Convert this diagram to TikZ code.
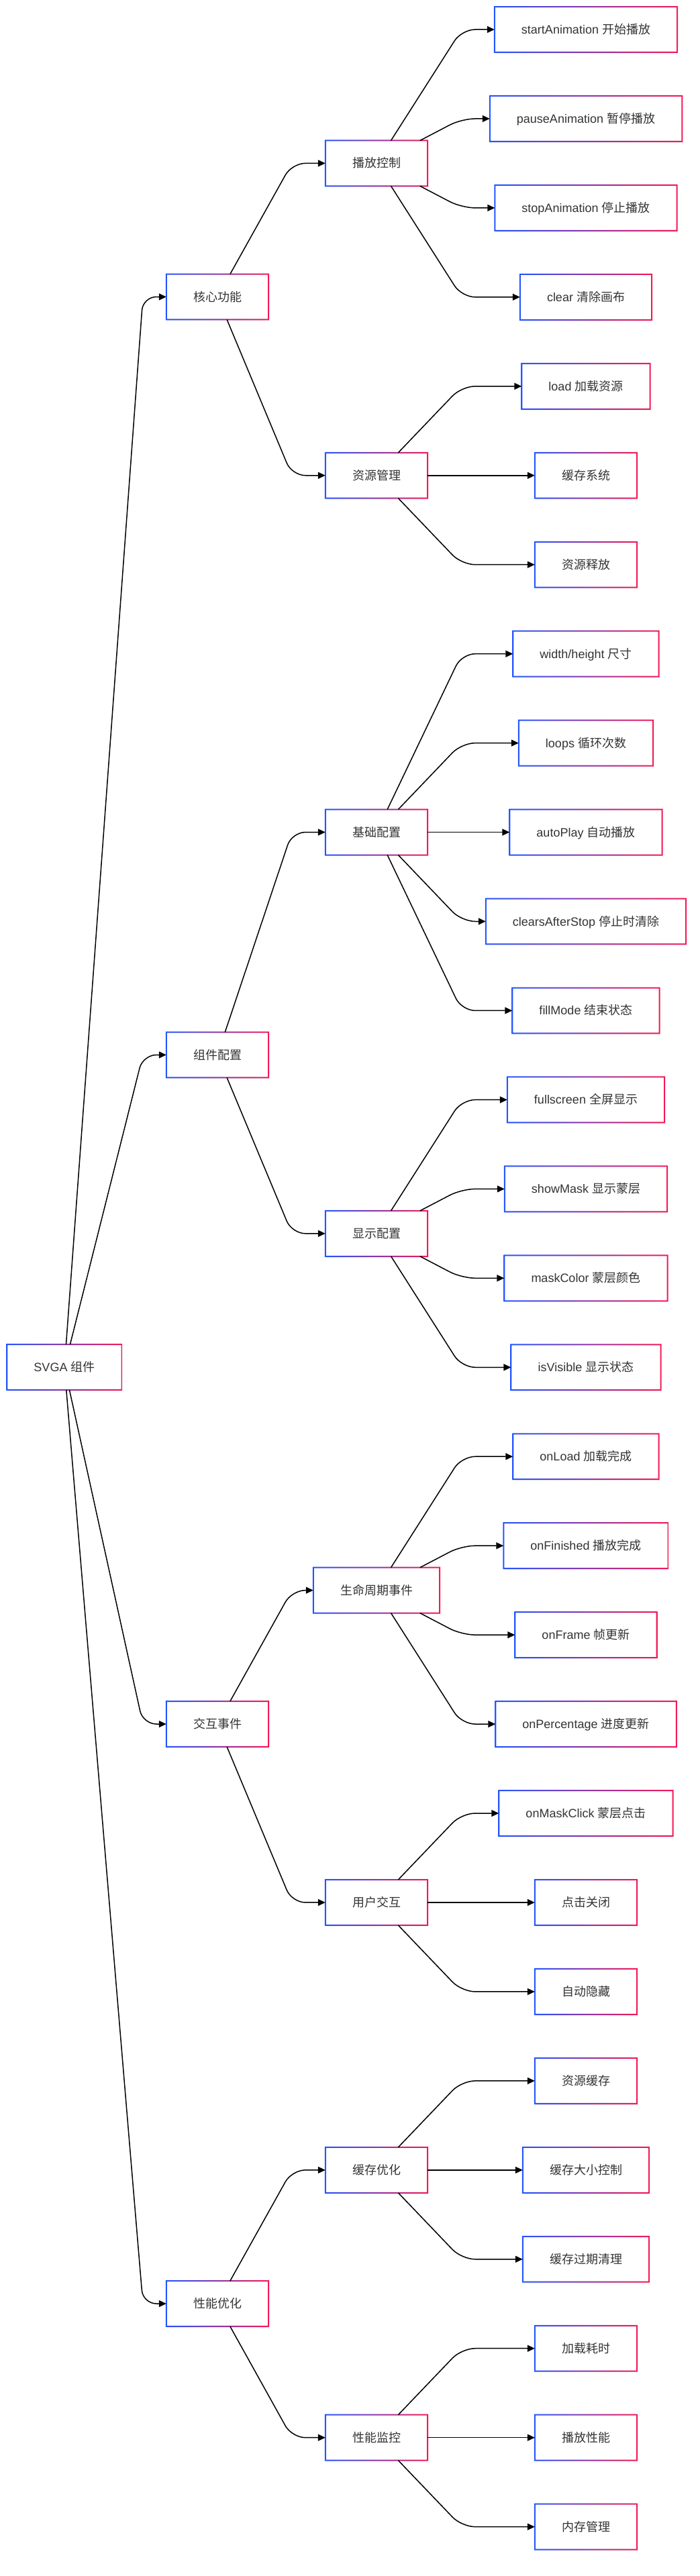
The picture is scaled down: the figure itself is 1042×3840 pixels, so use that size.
\documentclass[tikz,border=0pt]{standalone}
\usepackage{fontspec}
\setmainfont{Liberation Sans}
\newfontfamily\cjk{Noto Sans CJK SC}
\usetikzlibrary{arrows.meta,shadows,calc}
\definecolor{gblue}{RGB}{35,85,255}
\definecolor{gred}{RGB}{245,25,85}
\definecolor{txt}{RGB}{51,51,51}
\newcommand\zh[1]{{\cjk #1}}
\newcommand\gring[1]{\shade[left color=gblue,right color=gred,even odd rule]
  ($(#1.south west)+(-1,1)$) rectangle ($(#1.north east)+(1,-1)$)
  ($(#1.south west)+(1,-1)$) rectangle ($(#1.north east)+(-1,1)$);}
\newcommand\conn[3]{\draw[connline] (#1) -- (#2 -| #3) -- (#2.west);}
\tikzset{
  box/.style={rectangle, fill=white, draw=none, inner xsep=40pt, inner ysep=0pt,
    minimum height=67.5pt, text height=16pt, text depth=3pt,
    font=\fontsize{18pt}{22pt}\selectfont, text=txt,
    drop shadow={opacity=0.10, shadow xshift=1pt, shadow yshift=-2pt}},
  connline/.style={draw=black, line width=1.5pt, rounded corners=20pt,
    -{Triangle[length=11pt,width=10pt]}}
}
\begin{document}
\begin{tikzpicture}[x=1pt,y=-1pt]
\useasboundingbox (0,0) rectangle (1042,3840);
% rank bend coordinates
\coordinate (b1) at (213,0);
\coordinate (b2) at (435,0);
\coordinate (b3) at (688,0);
% root
\node[box] (root) at (96,2038) {SVGA \zh{组件}};
% level 1
\node[box] (c1) at (324,442.5) {\zh{核心功能}};
\node[box] (c2) at (324,1572.5) {\zh{组件配置}};
\node[box] (c3) at (324,2570) {\zh{交互事件}};
\node[box] (c4) at (324,3434) {\zh{性能优化}};
% level 2
\node[box] (p1) at (561,243.4) {\zh{播放控制}};
\node[box] (p2) at (561,708.75) {\zh{资源管理}};
\node[box] (p3) at (561,1240.55) {\zh{基础配置}};
\node[box] (p4) at (561,1838.8) {\zh{显示配置}};
\node[box] (p5) at (561,2370.6) {\zh{生命周期事件}};
\node[box] (p6) at (561,2835.95) {\zh{用户交互}};
\node[box] (p7) at (561,3234.8) {\zh{缓存优化}};
\node[box] (p8) at (561,3633.65) {\zh{性能监控}};
% leaves
\node[box] (l0) at (873,44) {startAnimation \zh{开始播放}};
\node[box] (l1) at (873,176.95) {pauseAnimation \zh{暂停播放}};
\node[box] (l2) at (873,309.9) {stopAnimation \zh{停止播放}};
\node[box] (l3) at (873,442.85) {clear \zh{清除画布}};
\node[box] (l4) at (873,575.8) {load \zh{加载资源}};
\node[box] (l5) at (873,708.75) {\zh{缓存系统}};
\node[box] (l6) at (873,841.7) {\zh{资源释放}};
\node[box] (l7) at (873,974.65) {width/height \zh{尺寸}};
\node[box] (l8) at (873,1107.6) {loops \zh{循环次数}};
\node[box] (l9) at (873,1240.55) {autoPlay \zh{自动播放}};
\node[box] (l10) at (873,1373.5) {clearsAfterStop \zh{停止时清除}};
\node[box] (l11) at (873,1506.45) {fillMode \zh{结束状态}};
\node[box] (l12) at (873,1639.4) {fullscreen \zh{全屏显示}};
\node[box] (l13) at (873,1772.35) {showMask \zh{显示蒙层}};
\node[box] (l14) at (873,1905.3) {maskColor \zh{蒙层颜色}};
\node[box] (l15) at (873,2038.25) {isVisible \zh{显示状态}};
\node[box] (l16) at (873,2171.2) {onLoad \zh{加载完成}};
\node[box] (l17) at (873,2304.15) {onFinished \zh{播放完成}};
\node[box] (l18) at (873,2437.1) {onFrame \zh{帧更新}};
\node[box] (l19) at (873,2570.05) {onPercentage \zh{进度更新}};
\node[box] (l20) at (873,2703) {onMaskClick \zh{蒙层点击}};
\node[box] (l21) at (873,2835.95) {\zh{点击关闭}};
\node[box] (l22) at (873,2968.9) {\zh{自动隐藏}};
\node[box] (l23) at (873,3101.85) {\zh{资源缓存}};
\node[box] (l24) at (873,3234.8) {\zh{缓存大小控制}};
\node[box] (l25) at (873,3367.75) {\zh{缓存过期清理}};
\node[box] (l26) at (873,3500.7) {\zh{加载耗时}};
\node[box] (l27) at (873,3633.65) {\zh{播放性能}};
\node[box] (l28) at (873,3766.6) {\zh{内存管理}};
% gradient borders
\foreach \n in {root,c1,c2,c3,c4,p1,p2,p3,p4,p5,p6,p7,p8,
  l0,l1,l2,l3,l4,l5,l6,l7,l8,l9,l10,l11,l12,l13,l14,l15,l16,l17,l18,l19,l20,
  l21,l22,l23,l24,l25,l26,l27,l28} {\gring{\n}}
% connectors: root -> level 1
\conn{root}{c1}{b1}
\conn{root}{c2}{b1}
\conn{root}{c3}{b1}
\conn{root}{c4}{b1}
% level 1 -> level 2
\conn{c1}{p1}{b2}
\conn{c1}{p2}{b2}
\conn{c2}{p3}{b2}
\conn{c2}{p4}{b2}
\conn{c3}{p5}{b2}
\conn{c3}{p6}{b2}
\conn{c4}{p7}{b2}
\conn{c4}{p8}{b2}
% level 2 -> leaves
\conn{p1}{l0}{b3}
\conn{p1}{l1}{b3}
\conn{p1}{l2}{b3}
\conn{p1}{l3}{b3}
\conn{p2}{l4}{b3}
\conn{p2}{l5}{b3}
\conn{p2}{l6}{b3}
\conn{p3}{l7}{b3}
\conn{p3}{l8}{b3}
\conn{p3}{l9}{b3}
\conn{p3}{l10}{b3}
\conn{p3}{l11}{b3}
\conn{p4}{l12}{b3}
\conn{p4}{l13}{b3}
\conn{p4}{l14}{b3}
\conn{p4}{l15}{b3}
\conn{p5}{l16}{b3}
\conn{p5}{l17}{b3}
\conn{p5}{l18}{b3}
\conn{p5}{l19}{b3}
\conn{p6}{l20}{b3}
\conn{p6}{l21}{b3}
\conn{p6}{l22}{b3}
\conn{p7}{l23}{b3}
\conn{p7}{l24}{b3}
\conn{p7}{l25}{b3}
\conn{p8}{l26}{b3}
\conn{p8}{l27}{b3}
\conn{p8}{l28}{b3}
\end{tikzpicture}
\end{document}
